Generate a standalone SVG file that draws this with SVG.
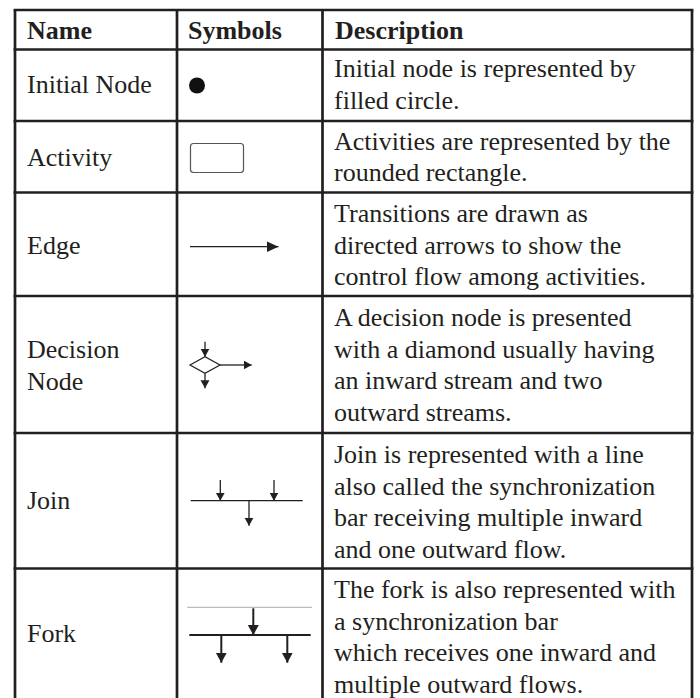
<svg xmlns="http://www.w3.org/2000/svg" width="700" height="698" viewBox="0 0 700 698">
<style>
  .grid { stroke: #231f20; stroke-width: 2.7; fill: none; }
  .t { font-family: "Liberation Serif", "Times New Roman", serif; font-size: 26px; fill: #231f20; }
  .h { font-weight: bold; }
  .ln { stroke: #231f20; stroke-width: 1.3; fill: none; }
  .lnb { stroke: #231f20; stroke-width: 2; fill: none; }
</style>
<defs>
  <marker id="ah" markerUnits="userSpaceOnUse" markerWidth="10" markerHeight="10" refX="8" refY="4.5" orient="auto">
    <path d="M0,0 L8,4.5 L0,9 Z" fill="#231f20"/>
  </marker>
  <marker id="ahL" markerUnits="userSpaceOnUse" markerWidth="12" markerHeight="12" refX="10" refY="5.5" orient="auto">
    <path d="M0,0 L10,5.5 L0,11 Z" fill="#231f20"/>
  </marker>
  <marker id="ahE" markerUnits="userSpaceOnUse" markerWidth="13" markerHeight="12" refX="11.5" refY="5.3" orient="auto">
    <path d="M0,0 L11.5,5.3 L0,10.6 Z" fill="#231f20"/>
  </marker>
</defs>
<rect width="700" height="698" fill="#ffffff"/>

<g id="table-grid" class="grid">
  <line x1="15" y1="10" x2="15" y2="698"/>
  <line x1="177" y1="10" x2="177" y2="698"/>
  <line x1="322.5" y1="10" x2="322.5" y2="698"/>
  <line x1="692" y1="10" x2="692" y2="698"/>
  <line x1="13.6" y1="10" x2="693.4" y2="10"/>
  <line x1="13.6" y1="49.5" x2="693.4" y2="49.5"/>
  <line x1="13.6" y1="121" x2="693.4" y2="121"/>
  <line x1="13.6" y1="192.5" x2="693.4" y2="192.5"/>
  <line x1="13.6" y1="296" x2="693.4" y2="296"/>
  <line x1="13.6" y1="433" x2="693.4" y2="433"/>
  <line x1="13.6" y1="568.5" x2="693.4" y2="568.5"/>
</g>

<g id="header">
  <text class="t h" x="27" y="39.3">Name</text>
  <text class="t h" x="188" y="39.3">Symbols</text>
  <text class="t h" x="335" y="39.3">Description</text>
</g>

<g id="row-initial-node">
  <text class="t" x="27" y="93.3">Initial Node</text>
  <circle cx="197" cy="85.5" r="8" fill="#111111"/>
  <text class="t" x="334" y="77">Initial node is represented by</text>
  <text class="t" x="334" y="108.5">filled circle.</text>
</g>

<g id="row-activity">
  <text class="t" x="27" y="166">Activity</text>
  <rect x="190.5" y="143.5" width="53" height="29" rx="3" fill="#ffffff" stroke="#555555" stroke-width="1.2"/>
  <text class="t" x="334" y="150">Activities are represented by the</text>
  <text class="t" x="334" y="180.5">rounded rectangle.</text>
</g>

<g id="row-edge">
  <text class="t" x="27" y="253.5">Edge</text>
  <text class="t" x="334" y="222">Transitions are drawn as</text>
  <text class="t" x="334" y="253.5">directed arrows to show the</text>
  <text class="t" x="334" y="285">control flow among activities.</text>
</g>

<g id="row-decision-node">
  <text class="t" x="27" y="358.3">Decision</text>
  <text class="t" x="27" y="390">Node</text>
  <polygon points="190,365 205,356.7 220,365 205,373.3" fill="#ffffff" stroke="#231f20" stroke-width="1.2"/>
  <text class="t" x="334" y="326">A decision node is presented</text>
  <text class="t" x="334" y="357.6">with a diamond usually having</text>
  <text class="t" x="334" y="389.2">an inward stream and two</text>
  <text class="t" x="334" y="420.8">outward streams.</text>
</g>

<g id="row-join">
  <text class="t" x="27" y="509">Join</text>
  <line class="ln" x1="190.7" y1="500.7" x2="302.7" y2="500.7" stroke="#444444"/>
  <text class="t" x="334" y="463">Join is represented with a line</text>
  <text class="t" x="334" y="494.5">also called the synchronization</text>
  <text class="t" x="334" y="526">bar receiving multiple inward</text>
  <text class="t" x="334" y="557.5">and one outward flow.</text>
</g>

<g id="row-fork">
  <text class="t" x="27" y="642">Fork</text>
  <line x1="187.3" y1="607.3" x2="312" y2="607.3" stroke="#aaaaaa" stroke-width="1"/>
  <line class="lnb" x1="189.3" y1="635" x2="310.7" y2="635"/>
  <text class="t" x="334" y="598">The fork is also represented with</text>
  <text class="t" x="334" y="629.5">a synchronization bar</text>
  <text class="t" x="334" y="661">which receives one inward and</text>
  <text class="t" x="334" y="692.5">multiple outward flows.</text>
</g>

<g id="connectors">
  <line class="ln" x1="190" y1="246.7" x2="278.5" y2="246.7" marker-end="url(#ahE)"/>
  <line class="ln" x1="205" y1="341.7" x2="205" y2="356.7" marker-end="url(#ah)"/>
  <line class="ln" x1="205" y1="373.3" x2="205" y2="388.3" marker-end="url(#ah)"/>
  <line class="ln" x1="220" y1="365" x2="251.7" y2="365" marker-end="url(#ah)"/>
  <line class="ln" x1="220.3" y1="480" x2="220.3" y2="500.7" marker-end="url(#ah)"/>
  <line class="ln" x1="274" y1="480" x2="274" y2="500.7" marker-end="url(#ah)"/>
  <line class="ln" x1="249" y1="500.7" x2="249" y2="525.7" marker-end="url(#ah)"/>
  <line class="lnb" x1="253.3" y1="608.3" x2="253.3" y2="635" marker-end="url(#ahL)"/>
  <line class="lnb" x1="221.3" y1="635" x2="221.3" y2="662.7" marker-end="url(#ahL)"/>
  <line class="lnb" x1="287.3" y1="635" x2="287.3" y2="662.7" marker-end="url(#ahL)"/>
</g>
</svg>
